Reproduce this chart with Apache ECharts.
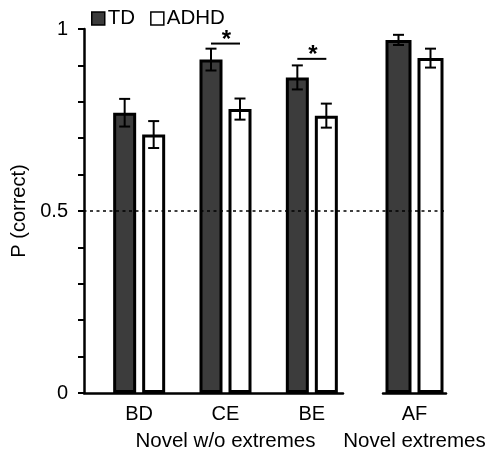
<!DOCTYPE html>
<html>
<head>
<meta charset="utf-8">
<script src="https://cdn.jsdelivr.net/npm/echarts@6/dist/echarts.min.js"></script>
<style>html,body{margin:0;padding:0;background:#fff;}#c{width:490px;height:457px;}</style>
</head>
<body>
<div id="c"></div>
<script>
// ---- data ----
const categoriesNovel = ['BD', 'CE', 'BE'];
const categoriesExtreme = ['AF'];
const tdMeans = [0.77, 0.916, 0.867];
const tdErrors = [0.038, 0.03, 0.033];
const adhdMeans = [0.71, 0.78, 0.762];
const adhdErrors = [0.037, 0.029, 0.033];
const tdMeansExtreme = [0.97];
const tdErrorsExtreme = [0.014];
const adhdMeansExtreme = [0.92];
const adhdErrorsExtreme = [0.026];
const sigCategories = ['CE', 'BE'];
const sigHeights = [0.96, 0.918];
const yTickLabels = [0, 0.5, 1];
const chanceLevel = 0.5;

// ---- style ----
const FONT = 'Liberation Sans, Arial, sans-serif';
const DARK = '#3c3c3c';
const BW1 = 23, GAP1 = 6, BW2 = 26, GAP2 = 6;

const chart = echarts.init(document.getElementById('c'));

function errData(means, errs) {
  return means.map((m, i) => [i, m - errs[i], m + errs[i]]);
}
function errRender(offset) {
  return function (params, api) {
    const cat = api.value(0);
    const top = api.coord([cat, api.value(2)]);
    const bot = api.coord([cat, api.value(1)]);
    const x = top[0] + offset;
    const cap = 5.5;
    const st = { stroke: '#000', lineWidth: 2 };
    return {
      type: 'group',
      children: [
        { type: 'line', shape: { x1: x, y1: top[1], x2: x, y2: bot[1] }, style: st },
        { type: 'line', shape: { x1: x - cap, y1: top[1], x2: x + cap, y2: top[1] }, style: st },
        { type: 'line', shape: { x1: x - cap, y1: bot[1], x2: x + cap, y2: bot[1] }, style: st }
      ]
    };
  };
}
const off1 = (BW1 + GAP1) / 2, off2 = (BW2 + GAP2) / 2;

const hiddenY = (idx) => ({ type: 'value', gridIndex: idx, min: 0, max: 1, show: false });

const option = {
  animation: false,
  textStyle: { fontFamily: FONT },
  legend: {
    left: 86, top: 3,
    itemWidth: 13, itemHeight: 13, itemGap: 15,
    icon: 'rect',
    textStyle: { fontSize: 20.5, color: '#000', fontFamily: FONT, padding: [0, 0, 0, -2] },
    data: [
      { name: 'TD', itemStyle: { color: DARK, borderColor: '#000', borderWidth: 1.5 } },
      { name: 'ADHD', itemStyle: { color: '#fff', borderColor: '#000', borderWidth: 1.5 } }
    ]
  },
  grid: [
    { left: 84, right: 45, top: 29, bottom: 64 },          // main / y axis
    { left: 96, width: 259, top: 29, bottom: 64 },         // novel w/o extremes
    { left: 84, width: 259, top: 29, bottom: 64 },         // axis line segment
    { left: 383, width: 63, top: 29, bottom: 64 }          // novel extremes
  ],
  xAxis: [
    { type: 'value', gridIndex: 0, min: 0, max: 1, show: false },
    {
      type: 'category', gridIndex: 1, data: categoriesNovel,
      axisLine: { show: false }, axisTick: { show: false },
      axisLabel: { fontSize: 20, color: '#000', margin: 11, fontFamily: FONT },
      name: 'Novel w/o extremes', nameLocation: 'middle', nameGap: 38,
      nameTextStyle: { fontSize: 20.5, color: '#000', fontFamily: FONT }
    },
    {
      type: 'category', gridIndex: 2, data: [''],
      axisLine: { show: true, lineStyle: { color: '#000', width: 2.5 } },
      axisTick: { show: false }, axisLabel: { show: false }
    },
    {
      type: 'category', gridIndex: 3, data: categoriesExtreme,
      axisLine: { show: true, lineStyle: { color: '#000', width: 2.5 } },
      axisTick: { show: false },
      axisLabel: { fontSize: 20, color: '#000', margin: 11, fontFamily: FONT },
      name: 'Novel extremes', nameLocation: 'middle', nameGap: 38,
      nameTextStyle: { fontSize: 20.5, color: '#000', fontFamily: FONT, padding: [0, 0, 0, 0] }
    }
  ],
  yAxis: [
    {
      type: 'value', gridIndex: 0, min: 0, max: 1, interval: 0.1,
      axisLine: { show: true, lineStyle: { color: '#000', width: 2.5 } },
      axisTick: { show: true, length: 6, lineStyle: { color: '#000', width: 2 } },
      splitLine: { show: false },
      axisLabel: {
        fontSize: 20, color: '#000', margin: 16, fontFamily: FONT,
        formatter: (v) => yTickLabels.some(t => Math.abs(t - v) < 1e-6) ? String(Math.round(v * 10) / 10) : ''
      },
      name: 'P (correct)', nameLocation: 'middle', nameGap: 43,
      nameTextStyle: { fontSize: 20, color: '#000', fontFamily: FONT }
    },
    hiddenY(1), hiddenY(2), hiddenY(3)
  ],
  series: [
    {
      type: 'line', xAxisIndex: 0, yAxisIndex: 0, data: [], silent: true, z: 5,
      markLine: {
        symbol: 'none', silent: true, label: { show: false },
        lineStyle: { color: '#000', type: [3, 3.5], width: 1.5, dashOffset: -6 },
        data: [{ yAxis: chanceLevel }]
      }
    },
    {
      name: 'TD', type: 'bar', xAxisIndex: 1, yAxisIndex: 1, data: tdMeans,
      barWidth: BW1, barGap: (GAP1 / BW1 * 100) + '%',
      itemStyle: { color: DARK, borderColor: '#000', borderWidth: 3 }
    },
    {
      name: 'ADHD', type: 'bar', xAxisIndex: 1, yAxisIndex: 1, data: adhdMeans,
      barWidth: BW1, barGap: (GAP1 / BW1 * 100) + '%',
      itemStyle: { color: '#fff', borderColor: '#000', borderWidth: 3 }
    },
    {
      name: 'TD', type: 'bar', xAxisIndex: 3, yAxisIndex: 3, data: tdMeansExtreme,
      barWidth: BW2, barGap: (GAP2 / BW2 * 100) + '%',
      itemStyle: { color: DARK, borderColor: '#000', borderWidth: 3 }
    },
    {
      name: 'ADHD', type: 'bar', xAxisIndex: 3, yAxisIndex: 3, data: adhdMeansExtreme,
      barWidth: BW2, barGap: (GAP2 / BW2 * 100) + '%',
      itemStyle: { color: '#fff', borderColor: '#000', borderWidth: 3 }
    },
    { type: 'custom', xAxisIndex: 1, yAxisIndex: 1, z: 10, renderItem: errRender(-off1), data: errData(tdMeans, tdErrors) },
    { type: 'custom', xAxisIndex: 1, yAxisIndex: 1, z: 10, renderItem: errRender(off1), data: errData(adhdMeans, adhdErrors) },
    { type: 'custom', xAxisIndex: 3, yAxisIndex: 3, z: 10, renderItem: errRender(-off2), data: errData(tdMeansExtreme, tdErrorsExtreme) },
    { type: 'custom', xAxisIndex: 3, yAxisIndex: 3, z: 10, renderItem: errRender(off2), data: errData(adhdMeansExtreme, adhdErrorsExtreme) },
    {
      type: 'custom', xAxisIndex: 1, yAxisIndex: 1, z: 10,
      data: sigCategories.map((c, i) => [categoriesNovel.indexOf(c), sigHeights[i]]),
      renderItem: function (params, api) {
        const p = api.coord([api.value(0), api.value(1)]);
        return {
          type: 'group',
          children: [
            { type: 'line', shape: { x1: p[0] - off1, y1: p[1], x2: p[0] + off1, y2: p[1] }, style: { stroke: '#000', lineWidth: 2 } },
            { type: 'text', x: p[0] + 1, y: p[1] + 9, style: { text: '*', fontSize: 24, fontWeight: 'bold', fontFamily: FONT, fill: '#000', align: 'center', verticalAlign: 'bottom' } }
          ]
        };
      }
    }
  ]
};
chart.setOption(option);
</script>
</body>
</html>
